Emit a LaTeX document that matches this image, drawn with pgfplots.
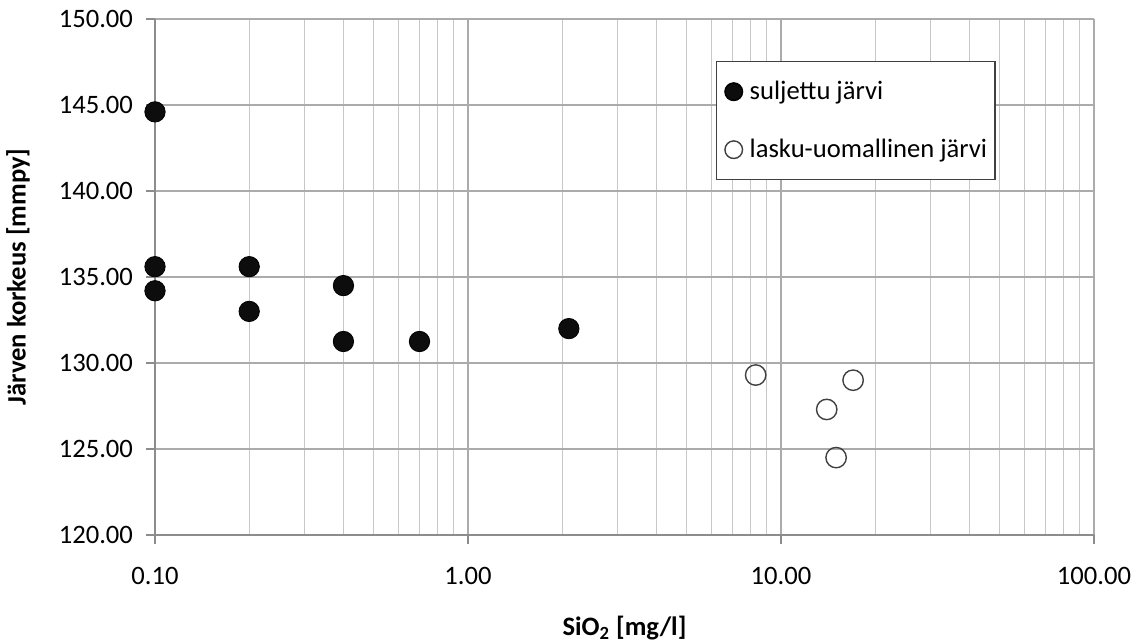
\documentclass[border=0pt]{standalone}
\usepackage{fontspec}
\setmainfont{Carlito}
\usepackage{pgfplots}
\pgfplotsset{compat=1.18}
\begin{document}
\begin{tikzpicture}
\useasboundingbox (0,0) rectangle (568.5pt,321.5pt);
\begin{axis}[
  at={(77.5pt,54pt)}, anchor=south west,
  scale only axis, width=469.5pt, height=258pt,
  xmode=log, log basis x=10,
  xmin=0.1, xmax=100, ymin=120, ymax=150,
  xtick={0.1,1,10,100}, xticklabels={0.10,1.00,10.00,100.00},
  minor xtick={0.2,0.3,0.4,0.5,0.6,0.7,0.8,0.9,2,3,4,5,6,7,8,9,20,30,40,50,60,70,80,90},
  ytick={120,125,...,150},
  yticklabel style={xshift=-3pt, /pgf/number format/fixed, /pgf/number format/fixed zerofill, /pgf/number format/precision=2},
  /pgf/number format/assume math mode=true,
  font=\fontsize{13.3}{16}\selectfont,
  axis x line*=bottom, axis y line*=left,
  axis line style={black!45, line width=0.7pt, -},
  grid=both,
  major grid style={black!33, line width=0.6pt},
  minor grid style={black!22, line width=0.6pt},
  tick align=outside,
  major tick length=4.5pt, minor tick length=0pt,
  tick style={black!45, line width=0.7pt},
  xticklabel style={yshift=-8pt},
  clip=false,
  xlabel={\textbf{SiO\textsubscript{2} [mg/l]}},
  ylabel={\textbf{Järven korkeus [mmpy]}},
  xlabel style={at={(axis description cs:0.5,-0.180)}, anchor=center},
  ylabel style={at={(axis description cs:-0.1459,0.5)}, anchor=center},
  legend style={at={(rel axis cs:0.5975,0.9186)}, anchor=north west,
    draw=black!75, line width=0.7pt, inner xsep=4pt, inner ysep=8.5pt,
    row sep=16pt, font=\fontsize{13.3}{16}\selectfont,
    nodes={inner sep=0pt, text height=10.5pt, text depth=2.5pt},
    cells={anchor=west}},
  legend image code/.code={%
    \path[draw=none, fill=none] (-4.5pt,-5pt) (8pt,5pt);
    \draw[#1, mark size=4.4pt] plot coordinates {(0pt,0pt)};},
]
\addplot[only marks, mark=*, mark size=5.1pt, draw=black, fill=black!95] coordinates {
  (0.1,144.6) (0.1,135.6) (0.1,134.2) (0.2,135.6) (0.2,133.0)
  (0.4,134.5) (0.4,131.25) (0.7,131.25) (2.1,132.0)
};
\addlegendentry{suljettu järvi}
\addplot[only marks, mark=o, mark size=5.1pt, mark options={draw=black!75, line width=0.7pt, fill=white}] coordinates {
  (8.3,129.3) (14.0,127.3) (15.0,124.5) (17.0,129.0)
};
\addlegendentry{lasku-uomallinen järvi}
\end{axis}
\end{tikzpicture}
\end{document}
